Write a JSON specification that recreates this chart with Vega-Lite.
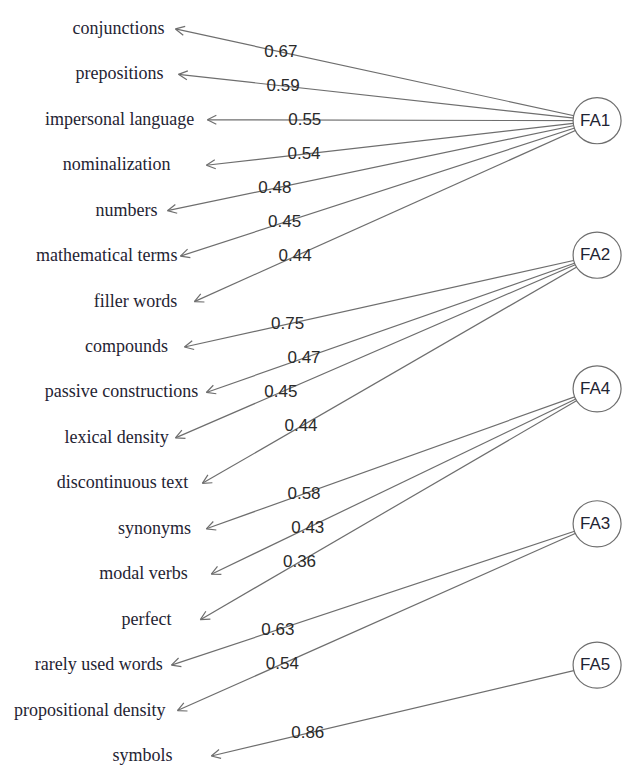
{
  "$schema": "https://vega.github.io/schema/vega-lite/v6.json",
  "width": 624,
  "height": 765,
  "autosize": {"type": "fit", "contains": "padding"},
  "padding": 0,
  "background": "white",
  "config": {"view": {"stroke": null}},
  "datasets": {
    "edges": [
      {"var": "conjunctions", "factor": "FA1", "loading": "0.67", "row": 0, "x": 176, "tx": 119},
      {"var": "prepositions", "factor": "FA1", "loading": "0.59", "row": 1, "x": 179, "tx": 120},
      {"var": "impersonal language", "factor": "FA1", "loading": "0.55", "row": 2, "x": 208, "tx": 120},
      {"var": "nominalization", "factor": "FA1", "loading": "0.54", "row": 3, "x": 207, "tx": 117},
      {"var": "numbers", "factor": "FA1", "loading": "0.48", "row": 4, "x": 168, "tx": 127},
      {"var": "mathematical terms", "factor": "FA1", "loading": "0.45", "row": 5, "x": 181, "tx": 107},
      {"var": "filler words", "factor": "FA1", "loading": "0.44", "row": 6, "x": 195, "tx": 136},
      {"var": "compounds", "factor": "FA2", "loading": "0.75", "row": 7, "x": 185, "tx": 127},
      {"var": "passive constructions", "factor": "FA2", "loading": "0.47", "row": 8, "x": 207, "tx": 122},
      {"var": "lexical density", "factor": "FA2", "loading": "0.45", "row": 9, "x": 176, "tx": 117},
      {"var": "discontinuous text", "factor": "FA2", "loading": "0.44", "row": 10, "x": 203, "tx": 123},
      {"var": "synonyms", "factor": "FA4", "loading": "0.58", "row": 11, "x": 207, "tx": 155},
      {"var": "modal verbs", "factor": "FA4", "loading": "0.43", "row": 12, "x": 212, "tx": 144},
      {"var": "perfect", "factor": "FA4", "loading": "0.36", "row": 13, "x": 201, "tx": 147},
      {"var": "rarely used words", "factor": "FA3", "loading": "0.63", "row": 14, "x": 172, "tx": 99},
      {"var": "propositional density", "factor": "FA3", "loading": "0.54", "row": 15, "x": 178, "tx": 90},
      {"var": "symbols", "factor": "FA5", "loading": "0.86", "row": 16, "x": 212, "tx": 143}
    ],
    "factors": [
      {"factor": "FA1", "fx": 599, "frow": 2.02},
      {"factor": "FA2", "fx": 599, "frow": 4.98},
      {"factor": "FA4", "fx": 599, "frow": 7.92},
      {"factor": "FA3", "fx": 599, "frow": 10.89},
      {"factor": "FA5", "fx": 599, "frow": 14.0}
    ]
  },
  "layer": [
    {
      "data": {"name": "edges"},
      "transform": [
        {"lookup": "factor", "from": {"data": {"name": "factors"}, "key": "factor", "fields": ["fx", "frow"]}}
      ],
      "mark": {"type": "rule", "color": "#6e6e6e", "strokeWidth": 1.2},
      "encoding": {
        "x": {"field": "x", "type": "quantitative", "scale": {"domain": [0, 624], "nice": false, "zero": false}, "axis": null},
        "y": {"field": "row", "type": "quantitative", "scale": {"domain": [-0.6365, 16.154], "nice": false, "zero": false, "reverse": true}, "axis": null},
        "x2": {"field": "fx"},
        "y2": {"field": "frow"}
      }
    },
    {
      "data": {"name": "edges"},
      "transform": [
        {"lookup": "factor", "from": {"data": {"name": "factors"}, "key": "factor", "fields": ["fx", "frow"]}},
        {"calculate": "atan2((datum.frow - datum.row) * 45.5625, datum.fx - datum.x) * 180 / PI", "as": "ang"}
      ],
      "mark": {"type": "point", "shape": "M0,0L1,-0.5M0,0L1,0.5", "filled": false, "stroke": "#6e6e6e", "strokeWidth": 1.2, "opacity": 1, "size": 324},
      "encoding": {
        "x": {"field": "x", "type": "quantitative"},
        "y": {"field": "row", "type": "quantitative"},
        "angle": {"field": "ang", "type": "quantitative", "scale": null}
      }
    },
    {
      "data": {"name": "edges"},
      "transform": [
        {"lookup": "factor", "from": {"data": {"name": "factors"}, "key": "factor", "fields": ["fx", "frow"]}},
        {"calculate": "datum.x + 0.25 * (datum.fx - datum.x)", "as": "lx"},
        {"calculate": "datum.row + 0.25 * (datum.frow - datum.row)", "as": "ly"}
      ],
      "mark": {"type": "text", "font": "Liberation Sans", "fontSize": 17, "color": "#2a2a2a", "align": "center", "baseline": "middle"},
      "encoding": {
        "x": {"field": "lx", "type": "quantitative"},
        "y": {"field": "ly", "type": "quantitative"},
        "text": {"field": "loading", "type": "nominal"}
      }
    },
    {
      "data": {"name": "edges"},
      "mark": {"type": "text", "font": "Liberation Serif", "fontSize": 18, "color": "#1f2433", "align": "center", "baseline": "middle"},
      "encoding": {
        "x": {"field": "tx", "type": "quantitative"},
        "y": {"field": "row", "type": "quantitative"},
        "text": {"field": "var", "type": "nominal"}
      }
    },
    {
      "data": {"name": "factors"},
      "mark": {"type": "point", "shape": "M-1,0A1,0.96 0 1,1 1,0A1,0.96 0 1,1 -1,0Z", "filled": true, "fill": "white", "stroke": "#6e6e6e", "strokeWidth": 1.2, "opacity": 1, "size": 2304},
      "encoding": {
        "x": {"field": "fx", "type": "quantitative"},
        "y": {"field": "frow", "type": "quantitative"}
      }
    },
    {
      "data": {"name": "factors"},
      "mark": {"type": "text", "font": "Liberation Sans", "fontSize": 17, "color": "#1f2433", "align": "center", "baseline": "middle", "dx": -2},
      "encoding": {
        "x": {"field": "fx", "type": "quantitative"},
        "y": {"field": "frow", "type": "quantitative"},
        "text": {"field": "factor", "type": "nominal"}
      }
    }
  ]
}
